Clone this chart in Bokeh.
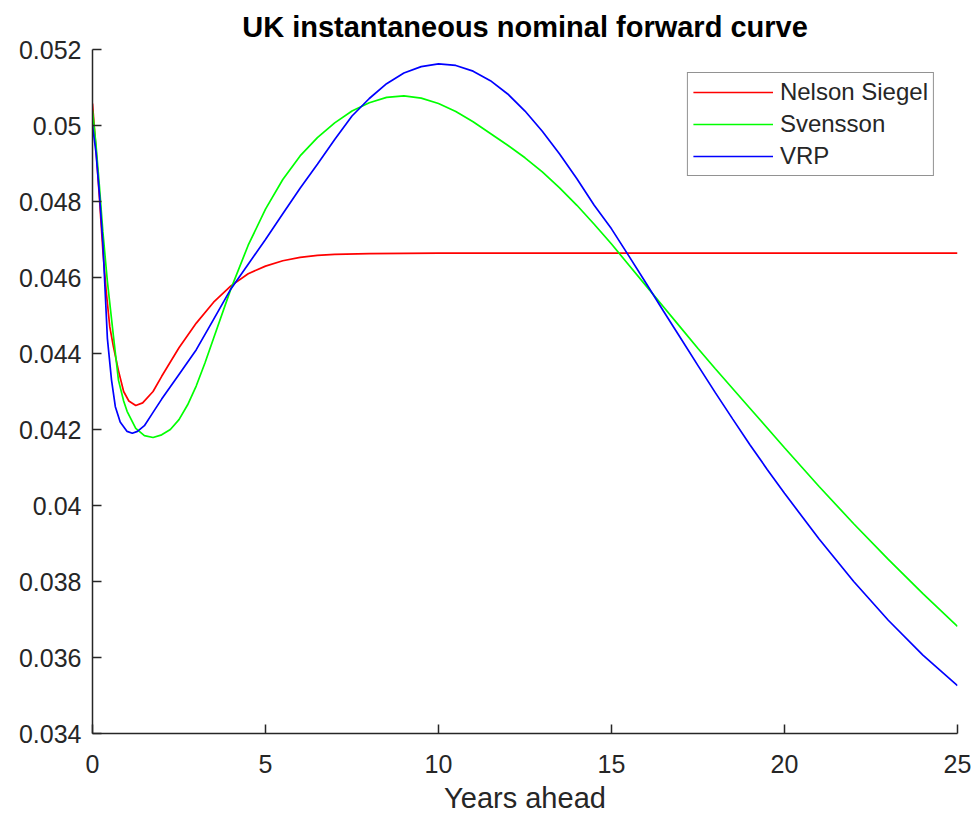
from bokeh.plotting import figure
from bokeh.embed import file_html
from bokeh.resources import INLINE
from bokeh.models import FixedTicker

title_text = "UK instantaneous nominal forward curve"
x_label = "Years ahead"

x_ticks = [0, 5, 10, 15, 20, 25]
y_ticks = [0.034, 0.036, 0.038, 0.040, 0.042, 0.044, 0.046, 0.048, 0.050, 0.052]
y_tick_labels = ["0.034", "0.036", "0.038", "0.04", "0.042", "0.044", "0.046", "0.048", "0.05", "0.052"]

ns_x = [0, 0.1, 0.2, 0.3, 0.4, 0.5, 0.6, 0.75, 0.9, 1.05, 1.25, 1.45, 1.75, 2.0, 2.5,
        3.0, 3.5, 4.0, 4.5, 5.0, 5.5, 6.0, 6.5, 7.0, 8.0, 10.0, 15.0, 20.0, 25.0]
ns_y = [0.05058, 0.0494, 0.0481, 0.0467, 0.0456, 0.0447, 0.0442, 0.04355, 0.0430, 0.04275,
        0.04263, 0.0427, 0.04300, 0.0434, 0.04415, 0.0448, 0.04535, 0.04578, 0.0461, 0.0463,
        0.04644, 0.04653, 0.04658, 0.04661, 0.04663, 0.04664, 0.04664, 0.04664, 0.04664]

sv_x = [0, 0.1, 0.2, 0.3, 0.43, 0.6, 0.75, 0.9, 1.0, 1.25, 1.5, 1.75, 2.0, 2.25, 2.5, 2.75,
        3.0, 3.25, 3.5, 4.0, 4.5, 5.0, 5.5, 6.0, 6.5, 7.0, 7.5, 8.0, 8.5, 9.0, 9.5, 10.0,
        10.5, 11.0, 11.5, 12.0, 12.5, 13.0, 13.5, 14.0, 14.5, 15.0, 15.5, 16.0, 16.5, 17.0,
        17.5, 18.0, 19.0, 20.0, 21.0, 22.0, 23.0, 24.0, 25.0]
sv_y = [0.0504, 0.0495, 0.0484, 0.0472, 0.0459, 0.0445, 0.0433, 0.04275, 0.04248, 0.04203,
        0.04184, 0.04179, 0.04186, 0.0420, 0.04226, 0.04265, 0.04315, 0.04375, 0.0444, 0.0457,
        0.04685, 0.0478, 0.04858, 0.0492, 0.04968, 0.05007, 0.05038, 0.0506, 0.05074, 0.05078,
        0.05072, 0.05058, 0.05037, 0.0501, 0.04979, 0.04948, 0.04915, 0.04878, 0.04836, 0.0479,
        0.0474, 0.04688, 0.04633, 0.04578, 0.04523, 0.04468, 0.04413, 0.0436, 0.04256, 0.04152,
        0.0405, 0.03952, 0.03858, 0.03768, 0.03682]

vrp_x = [0, 0.1, 0.2, 0.3, 0.43, 0.55, 0.66, 0.8, 1.0, 1.15, 1.3, 1.5, 1.75, 2.0, 2.5, 3.0,
         3.5, 4.0, 4.5, 5.0, 5.5, 6.0, 6.5, 7.0, 7.5, 8.0, 8.5, 9.0, 9.5, 10.0, 10.5, 11.0,
         11.5, 12.0, 12.5, 13.0, 13.5, 14.0, 14.5, 15.0, 15.5, 16.0, 16.5, 17.0, 17.5, 18.0,
         18.5, 19.0, 19.5, 20.0, 21.0, 22.0, 23.0, 24.0, 25.0]
vrp_y = [0.0500, 0.0493, 0.0482, 0.0469, 0.0444, 0.0433, 0.0426, 0.0422, 0.04195, 0.0419,
         0.04195, 0.0421, 0.04245, 0.0428, 0.04345, 0.0441, 0.0449, 0.0457, 0.04635, 0.0470,
         0.04768, 0.04835, 0.04898, 0.04963, 0.05025, 0.05071, 0.0511, 0.05138, 0.05155, 0.05162,
         0.05158, 0.05143, 0.05118, 0.05083, 0.05038, 0.04985, 0.04925, 0.0486, 0.0479, 0.04728,
         0.04657, 0.04585, 0.04512, 0.0444, 0.04368, 0.04297, 0.04228, 0.0416, 0.04095, 0.04032,
         0.03912, 0.0380, 0.03698, 0.03606, 0.03526]

FONT = "Liberation Sans"
AX = "#262626"

p = figure(width=976, height=816, x_range=(0, 25), y_range=(0.034, 0.052),
           output_backend="svg", toolbar_location=None,
           min_border_left=92, min_border_right=19, min_border_top=49, min_border_bottom=83)

p.title.text = title_text
p.title.align = "center"
p.title.text_font = FONT
p.title.text_font_size = "29px"
p.title.text_font_style = "bold"
p.title.text_color = "#000000"
p.title.standoff = 13

p.line(ns_x, ns_y, line_color="#FF0000", line_width=1.7, legend_label="Nelson Siegel")
p.line(sv_x, sv_y, line_color="#00FF00", line_width=1.7, legend_label="Svensson")
p.line(vrp_x, vrp_y, line_color="#0000FF", line_width=1.7, legend_label="VRP")

p.outline_line_color = None
p.xgrid.grid_line_color = None
p.ygrid.grid_line_color = None

p.xaxis.ticker = FixedTicker(ticks=x_ticks)
p.yaxis.ticker = FixedTicker(ticks=y_ticks)
p.yaxis.major_label_overrides = {t: l for t, l in zip(y_ticks, y_tick_labels)}

for ax in (p.xaxis, p.yaxis):
    ax.axis_line_color = AX
    ax.axis_line_width = 1.5
    ax.major_tick_line_color = AX
    ax.major_tick_line_width = 1.5
    ax.major_tick_in = 9
    ax.major_tick_out = 0
    ax.minor_tick_line_color = None
    ax.major_label_text_font = FONT
    ax.major_label_text_font_size = "25px"
    ax.major_label_text_color = AX

p.yaxis.major_label_standoff = 11
p.xaxis.major_label_standoff = 21
p.xaxis.axis_label = x_label
p.xaxis.axis_label_text_font = FONT
p.xaxis.axis_label_text_font_size = "29px"
p.xaxis.axis_label_text_font_style = "normal"
p.xaxis.axis_label_text_color = AX
p.xaxis.axis_label_standoff = 6

lg = p.legend[0]
lg.location = "top_right"
lg.margin = 23
lg.padding = 5
lg.spacing = 4
lg.glyph_width = 80
lg.glyph_height = 26
lg.label_standoff = 7
lg.label_text_font = FONT
lg.label_text_font_size = "24px"
lg.label_text_color = AX
lg.border_line_color = AX
lg.border_line_width = 1.5
lg.background_fill_color = "white"
lg.background_fill_alpha = 1.0

open("out.html", "w").write(file_html(p, INLINE))
